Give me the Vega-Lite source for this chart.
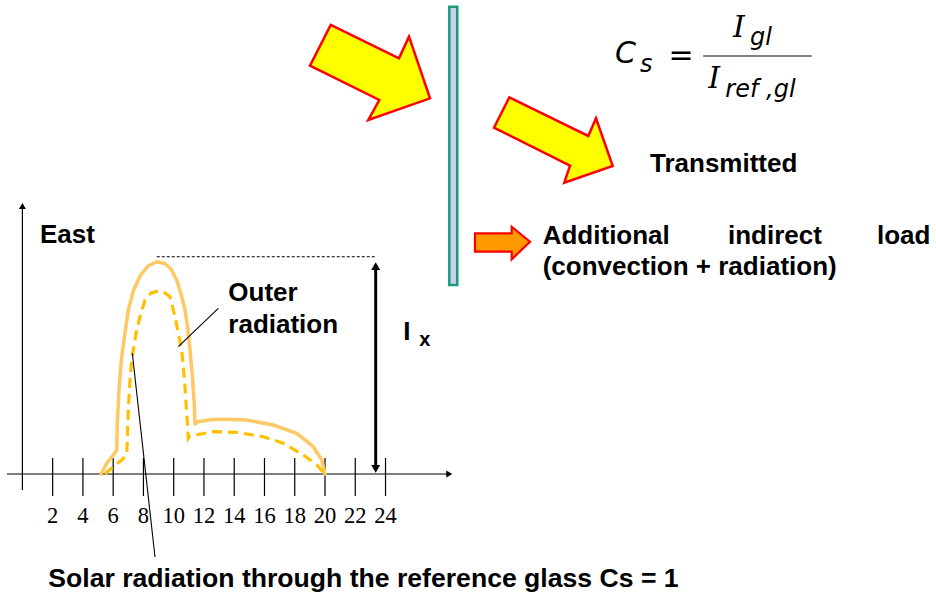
{
  "$schema": "https://vega.github.io/schema/vega-lite/v6.json",
  "width": 936,
  "height": 596,
  "autosize": "none",
  "padding": 0,
  "background": "white",
  "config": {"view": {"stroke": null}},
  "datasets": {
    "outer": [
      {"i": 0, "h": 5.195, "v": 0},
      {"i": 1, "h": 5.572, "v": 5.02},
      {"i": 2, "h": 6.008, "v": 8.92},
      {"i": 3, "h": 6.233, "v": 11.27},
      {"i": 4, "h": 6.272, "v": 23.94},
      {"i": 5, "h": 6.385, "v": 39.44},
      {"i": 6, "h": 6.55, "v": 54.46},
      {"i": 7, "h": 6.781, "v": 66.06},
      {"i": 8, "h": 6.999, "v": 77.0},
      {"i": 9, "h": 7.33, "v": 85.92},
      {"i": 10, "h": 7.773, "v": 92.96},
      {"i": 11, "h": 8.301, "v": 97.65},
      {"i": 12, "h": 8.876, "v": 99.67},
      {"i": 13, "h": 9.425, "v": 98.83},
      {"i": 14, "h": 9.822, "v": 96.24},
      {"i": 15, "h": 10.198, "v": 91.08},
      {"i": 16, "h": 10.483, "v": 84.51},
      {"i": 17, "h": 10.747, "v": 77.0},
      {"i": 18, "h": 10.945, "v": 67.61},
      {"i": 19, "h": 11.077, "v": 58.22},
      {"i": 20, "h": 11.256, "v": 44.13},
      {"i": 21, "h": 11.362, "v": 32.39},
      {"i": 22, "h": 11.408, "v": 23.47},
      {"i": 23, "h": 11.626, "v": 24.55},
      {"i": 24, "h": 12.399, "v": 25.45},
      {"i": 25, "h": 13.278, "v": 25.68},
      {"i": 26, "h": 14.825, "v": 25.35},
      {"i": 27, "h": 16.583, "v": 23.0},
      {"i": 28, "h": 18.129, "v": 19.11},
      {"i": 29, "h": 19.227, "v": 12.82},
      {"i": 30, "h": 19.782, "v": 6.57},
      {"i": 31, "h": 20.0, "v": 0}
    ],
    "inner": [
      {"i": 0, "h": 5.459, "v": 0},
      {"i": 1, "h": 6.008, "v": 3.43},
      {"i": 2, "h": 6.563, "v": 6.57},
      {"i": 3, "h": 6.893, "v": 8.92},
      {"i": 4, "h": 6.933, "v": 15.96},
      {"i": 5, "h": 6.999, "v": 30.05},
      {"i": 6, "h": 7.112, "v": 44.13},
      {"i": 7, "h": 7.224, "v": 53.52},
      {"i": 8, "h": 7.33, "v": 58.22},
      {"i": 9, "h": 7.508, "v": 66.06},
      {"i": 10, "h": 7.773, "v": 73.85},
      {"i": 11, "h": 8.103, "v": 81.69},
      {"i": 12, "h": 8.5, "v": 84.98},
      {"i": 13, "h": 8.982, "v": 85.92},
      {"i": 14, "h": 9.425, "v": 84.98},
      {"i": 15, "h": 9.755, "v": 83.24},
      {"i": 16, "h": 10.086, "v": 73.85},
      {"i": 17, "h": 10.304, "v": 66.06},
      {"i": 18, "h": 10.529, "v": 58.22},
      {"i": 19, "h": 10.714, "v": 44.13},
      {"i": 20, "h": 10.846, "v": 30.05},
      {"i": 21, "h": 10.965, "v": 16.76},
      {"i": 22, "h": 11.077, "v": 17.84},
      {"i": 23, "h": 12.617, "v": 19.86},
      {"i": 24, "h": 14.164, "v": 19.58},
      {"i": 25, "h": 15.922, "v": 17.51},
      {"i": 26, "h": 17.244, "v": 14.41},
      {"i": 27, "h": 18.566, "v": 8.92},
      {"i": 28, "h": 19.452, "v": 4.23},
      {"i": 29, "h": 20.0, "v": 0}
    ],
    "arrow1": [
      {"i": 0, "h": 20.377, "v": 210.8},
      {"i": 1, "h": 24.891, "v": 195.16},
      {"i": 2, "h": 25.552, "v": 205.31},
      {"i": 3, "h": 26.94, "v": 176.38},
      {"i": 4, "h": 22.862, "v": 166.2},
      {"i": 5, "h": 23.589, "v": 175.59},
      {"i": 6, "h": 19.009, "v": 191.69}
    ],
    "arrow2": [
      {"i": 0, "h": 32.181, "v": 176.85},
      {"i": 1, "h": 37.403, "v": 158.69},
      {"i": 2, "h": 37.911, "v": 167.0},
      {"i": 3, "h": 39.015, "v": 144.6},
      {"i": 4, "h": 35.816, "v": 136.76},
      {"i": 5, "h": 36.193, "v": 144.74},
      {"i": 6, "h": 31.17, "v": 162.58}
    ],
    "arrow3": [
      {"i": 0, "h": 29.914, "v": 113.0},
      {"i": 1, "h": 32.34, "v": 113.0},
      {"i": 2, "h": 32.34, "v": 116.1},
      {"i": 3, "h": 33.549, "v": 109.06},
      {"i": 4, "h": 32.34, "v": 100.8},
      {"i": 5, "h": 32.34, "v": 104.37},
      {"i": 6, "h": 29.914, "v": 104.37}
    ],
    "axes": [
      {"h": -1.018, "v": 0, "h2": 28.26, "v2": 0},
      {"h": 0, "v": -7.51, "h2": 0, "v2": 125.4}
    ],
    "ticks": [
      {"h": 2, "v": 7.51, "h2": 2, "v2": -10.33},
      {"h": 4, "v": 7.51, "h2": 4, "v2": -10.33},
      {"h": 6, "v": 7.51, "h2": 6, "v2": -10.33},
      {"h": 8, "v": 7.51, "h2": 8, "v2": -10.33},
      {"h": 10, "v": 7.51, "h2": 10, "v2": -10.33},
      {"h": 12, "v": 7.51, "h2": 12, "v2": -10.33},
      {"h": 14, "v": 7.51, "h2": 14, "v2": -10.33},
      {"h": 16, "v": 7.51, "h2": 16, "v2": -10.33},
      {"h": 18, "v": 7.51, "h2": 18, "v2": -10.33},
      {"h": 20, "v": 7.51, "h2": 20, "v2": -10.33},
      {"h": 22, "v": 7.51, "h2": 22, "v2": -10.33},
      {"h": 24, "v": 7.51, "h2": 24, "v2": -10.33}
    ],
    "tickLabels": [
      {"h": 2, "v": -23.15, "t": "2"},
      {"h": 4, "v": -23.15, "t": "4"},
      {"h": 6, "v": -23.15, "t": "6"},
      {"h": 8, "v": -23.15, "t": "8"},
      {"h": 10, "v": -23.15, "t": "10"},
      {"h": 12, "v": -23.15, "t": "12"},
      {"h": 14, "v": -23.15, "t": "14"},
      {"h": 16, "v": -23.15, "t": "16"},
      {"h": 18, "v": -23.15, "t": "18"},
      {"h": 20, "v": -23.15, "t": "20"},
      {"h": 22, "v": -23.15, "t": "22"},
      {"h": 24, "v": -23.15, "t": "24"}
    ],
    "leaders": [
      {"h": 12.948, "v": 77.79, "h2": 10.304, "v2": 59.77},
      {"h": 7.264, "v": 56.67, "h2": 8.764, "v2": -38.97},
      {"h": 44.999, "v": 196.24, "h2": 52.164, "v2": 196.24}
    ],
    "dotted": [{"h": 8.88, "v": 102.0, "h2": 23.3, "v2": 102.0}],
    "ix": [{"h": 23.35, "v": 97.0, "h2": 23.35, "v2": 3.3}],
    "headUpBig": [{"h": 23.35, "v": 97.56}],
    "headDownBig": [{"h": 23.35, "v": 2.44}],
    "headUpSmall": [{"h": 0, "v": 125.8}],
    "headRightSmall": [{"h": 28.215, "v": 0}],
    "glass": [{"h": 28.215, "v": 219.4, "h2": 28.74, "v2": 88.7}],
    "labels": [
      {"h": 1.163, "v": 108.31, "t": "East"},
      {"h": 13.609, "v": 81.36, "t": "Outer"},
      {"h": 13.609, "v": 66.34, "t": "radiation"},
      {"h": 25.175, "v": 62.91, "t": "I"},
      {"h": 41.48, "v": 141.93, "t": "Transmitted"},
      {"h": 34.389, "v": 107.84, "t": "Additional"},
      {"h": 46.636, "v": 107.84, "t": "indirect"},
      {"h": 56.484, "v": 107.84, "t": "load"},
      {"h": 34.389, "v": 93.66, "t": "(convection + radiation)"}
    ],
    "caption": [
      {"h": 1.712, "v": -52.91, "t": "Solar radiation through the reference glass Cs = 1"}
    ],
    "sub": [{"h": 26.233, "v": 60.09, "t": "x"}],
    "fBig": [{"h": 39.167, "v": 192.8, "t": "C"}],
    "fEq": [{"h": 43.53, "v": 192.02, "t": "="}],
    "fI": [
      {"h": 46.97, "v": 205.02, "t": "I"},
      {"h": 45.337, "v": 181.08, "t": "I"}
    ],
    "fSub": [
      {"h": 40.82, "v": 188.87, "t": "s"},
      {"h": 48.09, "v": 201.41, "t": "gl"},
      {"h": 46.461, "v": 177.14, "t": "ref ,gl"}
    ]
  },
  "encoding": {
    "x": {"field": "h", "type": "quantitative", "scale": {"domain": [-1.4805, 60.383], "nice": false, "zero": false}, "axis": null},
    "y": {"field": "v", "type": "quantitative", "scale": {"domain": [-57.277, 222.535], "nice": false, "zero": false}, "axis": null}
  },
  "layer": [
    {
      "data": {"name": "glass"},
      "mark": {"type": "rect", "fill": "#CDCDEF", "stroke": "#1A9C78", "strokeWidth": 2.5},
      "encoding": {"x2": {"field": "h2"}, "y2": {"field": "v2"}}
    },
    {
      "data": {"name": "arrow1"},
      "mark": {"type": "line", "interpolate": "linear-closed", "filled": true, "fill": "#FFFF00", "stroke": "#FF0000", "strokeWidth": 2.5, "strokeJoin": "miter"},
      "encoding": {"order": {"field": "i", "type": "quantitative"}}
    },
    {
      "data": {"name": "arrow2"},
      "mark": {"type": "line", "interpolate": "linear-closed", "filled": true, "fill": "#FFFF00", "stroke": "#FF0000", "strokeWidth": 2.5, "strokeJoin": "miter"},
      "encoding": {"order": {"field": "i", "type": "quantitative"}}
    },
    {
      "data": {"name": "arrow3"},
      "mark": {"type": "line", "interpolate": "linear-closed", "filled": true, "fill": "#FF9900", "stroke": "#FF0000", "strokeWidth": 2.2, "strokeJoin": "miter"},
      "encoding": {"order": {"field": "i", "type": "quantitative"}}
    },
    {
      "data": {"name": "axes"},
      "mark": {"type": "rule", "color": "#000000", "strokeWidth": 1.2},
      "encoding": {"x2": {"field": "h2"}, "y2": {"field": "v2"}}
    },
    {
      "data": {"name": "ticks"},
      "mark": {"type": "rule", "color": "#000000", "strokeWidth": 1.2},
      "encoding": {"x2": {"field": "h2"}, "y2": {"field": "v2"}}
    },
    {
      "data": {"name": "headUpSmall"},
      "mark": {"type": "point", "shape": "triangle-up", "filled": true, "color": "#000000", "size": 49, "opacity": 1}
    },
    {
      "data": {"name": "headRightSmall"},
      "mark": {"type": "point", "shape": "triangle-right", "filled": true, "color": "#000000", "size": 49, "opacity": 1}
    },
    {
      "data": {"name": "outer"},
      "mark": {"type": "line", "color": "#FFC864", "strokeWidth": 3.5, "strokeJoin": "round", "strokeCap": "round"},
      "encoding": {"order": {"field": "i", "type": "quantitative"}}
    },
    {
      "data": {"name": "inner"},
      "mark": {"type": "line", "color": "#FFC000", "strokeWidth": 3.2, "strokeDash": [10, 6]},
      "encoding": {"order": {"field": "i", "type": "quantitative"}}
    },
    {
      "data": {"name": "leaders"},
      "mark": {"type": "rule", "color": "#000000", "strokeWidth": 1.1},
      "encoding": {"x2": {"field": "h2"}, "y2": {"field": "v2"}}
    },
    {
      "data": {"name": "dotted"},
      "mark": {"type": "rule", "color": "#000000", "strokeWidth": 1, "strokeDash": [3, 2]},
      "encoding": {"x2": {"field": "h2"}, "y2": {"field": "v2"}}
    },
    {
      "data": {"name": "ix"},
      "mark": {"type": "rule", "color": "#000000", "strokeWidth": 3},
      "encoding": {"x2": {"field": "h2"}, "y2": {"field": "v2"}}
    },
    {
      "data": {"name": "headUpBig"},
      "mark": {"type": "point", "shape": "triangle-up", "filled": true, "color": "#000000", "size": 81, "opacity": 1}
    },
    {
      "data": {"name": "headDownBig"},
      "mark": {"type": "point", "shape": "triangle-down", "filled": true, "color": "#000000", "size": 81, "opacity": 1}
    },
    {
      "data": {"name": "tickLabels"},
      "mark": {"type": "text", "font": "Liberation Serif", "fontSize": 22.5, "align": "center", "baseline": "alphabetic", "color": "#000000"},
      "encoding": {"text": {"field": "t"}}
    },
    {
      "data": {"name": "labels"},
      "mark": {"type": "text", "font": "Liberation Sans", "fontWeight": "bold", "fontSize": 26, "align": "left", "baseline": "alphabetic", "color": "#000000"},
      "encoding": {"text": {"field": "t"}}
    },
    {
      "data": {"name": "caption"},
      "mark": {"type": "text", "font": "Liberation Sans", "fontWeight": "bold", "fontSize": 26.6, "align": "left", "baseline": "alphabetic", "color": "#000000"},
      "encoding": {"text": {"field": "t"}}
    },
    {
      "data": {"name": "sub"},
      "mark": {"type": "text", "font": "Liberation Sans", "fontWeight": "bold", "fontSize": 20, "align": "left", "baseline": "alphabetic", "color": "#000000"},
      "encoding": {"text": {"field": "t"}}
    },
    {
      "data": {"name": "fBig"},
      "mark": {"type": "text", "font": "DejaVu Sans", "fontStyle": "italic", "fontSize": 30, "align": "left", "baseline": "alphabetic", "color": "#000000"},
      "encoding": {"text": {"field": "t"}}
    },
    {
      "data": {"name": "fEq"},
      "mark": {"type": "text", "font": "DejaVu Sans", "fontSize": 30, "align": "center", "baseline": "alphabetic", "color": "#000000"},
      "encoding": {"text": {"field": "t"}}
    },
    {
      "data": {"name": "fI"},
      "mark": {"type": "text", "font": "DejaVu Serif", "fontStyle": "italic", "fontSize": 30, "align": "left", "baseline": "alphabetic", "color": "#000000"},
      "encoding": {"text": {"field": "t"}}
    },
    {
      "data": {"name": "fSub"},
      "mark": {"type": "text", "font": "DejaVu Sans", "fontStyle": "italic", "fontSize": 24, "align": "left", "baseline": "alphabetic", "color": "#000000"},
      "encoding": {"text": {"field": "t"}}
    }
  ]
}
